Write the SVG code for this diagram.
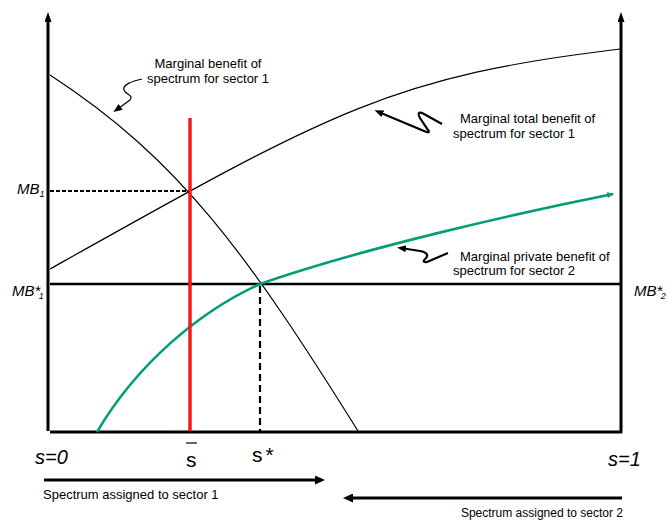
<svg xmlns="http://www.w3.org/2000/svg" width="668" height="520" viewBox="0 0 668 520">
<style>
text{font-family:"Liberation Sans",Arial,sans-serif;fill:#000}
.lbl{font-size:13px}
.it{font-style:italic}
.axis{stroke:#000;stroke-width:3;fill:none}
.curve{stroke:#000;stroke-width:1.2;fill:none}
.green{stroke:#009e78;stroke-width:2.6;fill:none}
.sq{stroke:#000;stroke-width:2.2;fill:none}
</style>
<defs>
<marker id="axh" markerUnits="userSpaceOnUse" viewBox="0 0 10 7" refX="1" refY="3.5" markerWidth="10" markerHeight="7" orient="auto"><path d="M0,0 L10,3.5 L0,7 z" fill="#000"/></marker>
<marker id="bh" markerUnits="userSpaceOnUse" viewBox="0 0 10 9" refX="1" refY="4.5" markerWidth="10" markerHeight="9" orient="auto"><path d="M0,0 L10,4.5 L0,9 z" fill="#000"/></marker>
<marker id="sh" markerUnits="userSpaceOnUse" viewBox="0 0 9 7" refX="2" refY="3.5" markerWidth="9" markerHeight="7" orient="auto"><path d="M0,0 L9,3.5 L0,7 z" fill="#000"/></marker>
<marker id="gh" markerUnits="userSpaceOnUse" viewBox="0 0 7 6" refX="6" refY="3" markerWidth="7" markerHeight="6" orient="auto"><path d="M0,0 L7,3 L0,6 z" fill="#009e78"/></marker>
</defs>
<rect width="668" height="520" fill="#fff"/>
<g id="connectors">
<line id="axis-left" x1="48" y1="431" x2="48" y2="21" class="axis" marker-end="url(#axh)"/>
<line id="axis-right" x1="621" y1="433" x2="621" y2="21" class="axis" marker-end="url(#axh)"/>
<line id="axis-bottom" x1="50" y1="432" x2="622" y2="432" class="axis"/>
<line id="mbstar" x1="50" y1="284" x2="620" y2="284" stroke="#000" stroke-width="2.6"/>
<line id="mb1-dash" x1="50" y1="191" x2="190" y2="191" stroke="#000" stroke-width="1.8" stroke-dasharray="4 2"/>
<line id="sstar-dash" x1="260" y1="286" x2="260" y2="431" stroke="#000" stroke-width="2.2" stroke-dasharray="7 4"/>
<path id="mb-sector1" class="curve" d="M50,75 C180,159.5 248,255 358,431"/>
<path id="mtb-sector1" class="curve" d="M50,269 C330,112 390,76.6 620,49"/>
<path id="mpb-sector2" class="green" d="M97,432 C137,364 200,311 260,284 C360,249 513,214 613,194" marker-end="url(#gh)"/>
<line id="sbar-line" x1="190" y1="118" x2="190" y2="431" stroke="#f21b1b" stroke-width="3.5"/>
<path id="sq1" class="curve" stroke-width="1.6" d="M142,79 C132,81 122,85 124,90 C126,95 134,95 130,100 L119,108" marker-end="url(#sh)"/>
<path id="sq2" class="sq" d="M442,124 L424,114 Q416,110 420,118 L428,130 Q431,134 424,131 L381,113" marker-end="url(#sh)"/>
<path id="sq3" class="sq" stroke-width="1.8" d="M448,253 L427,262 Q421,263 426,258 Q430,253 420,251 L404,248.5" marker-end="url(#sh)"/>
<line id="arrow-s1" x1="44" y1="480" x2="316" y2="480" stroke="#000" stroke-width="3" marker-end="url(#bh)"/>
<line id="arrow-s2" x1="622" y1="498" x2="352" y2="498" stroke="#000" stroke-width="3" marker-end="url(#bh)"/>
</g>
<g id="label-mb1-curve">
<text class="lbl" x="208" y="68" text-anchor="middle">Marginal benefit of</text>
<text class="lbl" x="208" y="83" text-anchor="middle">spectrum for sector 1</text>
</g>
<g id="label-mtb">
<text class="lbl" x="460" y="123">Marginal total benefit of</text>
<text class="lbl" x="453" y="138">spectrum for sector 1</text>
</g>
<g id="label-mpb">
<text class="lbl" x="460" y="261">Marginal private benefit of</text>
<text class="lbl" x="453" y="275">spectrum for sector 2</text>
</g>
<g id="label-mb1"><text class="it" x="17" y="194" font-size="15">MB<tspan font-size="9" dy="3">1</tspan></text></g>
<g id="label-mbstar1"><text class="it" x="12" y="296" font-size="15">MB*<tspan font-size="9" dx="-1.5" dy="3">1</tspan></text></g>
<g id="label-mbstar2"><text class="it" x="634" y="296" font-size="15">MB*<tspan font-size="9" dx="-1.5" dy="3">2</tspan></text></g>
<g id="label-s0"><text class="it" x="35" y="464" font-size="20">s=0</text></g>
<g id="label-s1"><text class="it" x="608" y="466" font-size="20">s=1</text></g>
<g id="label-sbar"><line x1="186" y1="443" x2="197" y2="443" stroke="#000" stroke-width="1.2"/><text x="186" y="467" font-size="21">s</text></g>
<g id="label-sstar"><text x="252" y="462" font-size="21">s<tspan dx="3">*</tspan></text></g>
<g id="label-sector1"><text class="lbl" x="43" y="499">Spectrum assigned to sector 1</text></g>
<g id="label-sector2"><text x="623" y="517" font-size="12" text-anchor="end">Spectrum assigned to sector 2</text></g>
</svg>
